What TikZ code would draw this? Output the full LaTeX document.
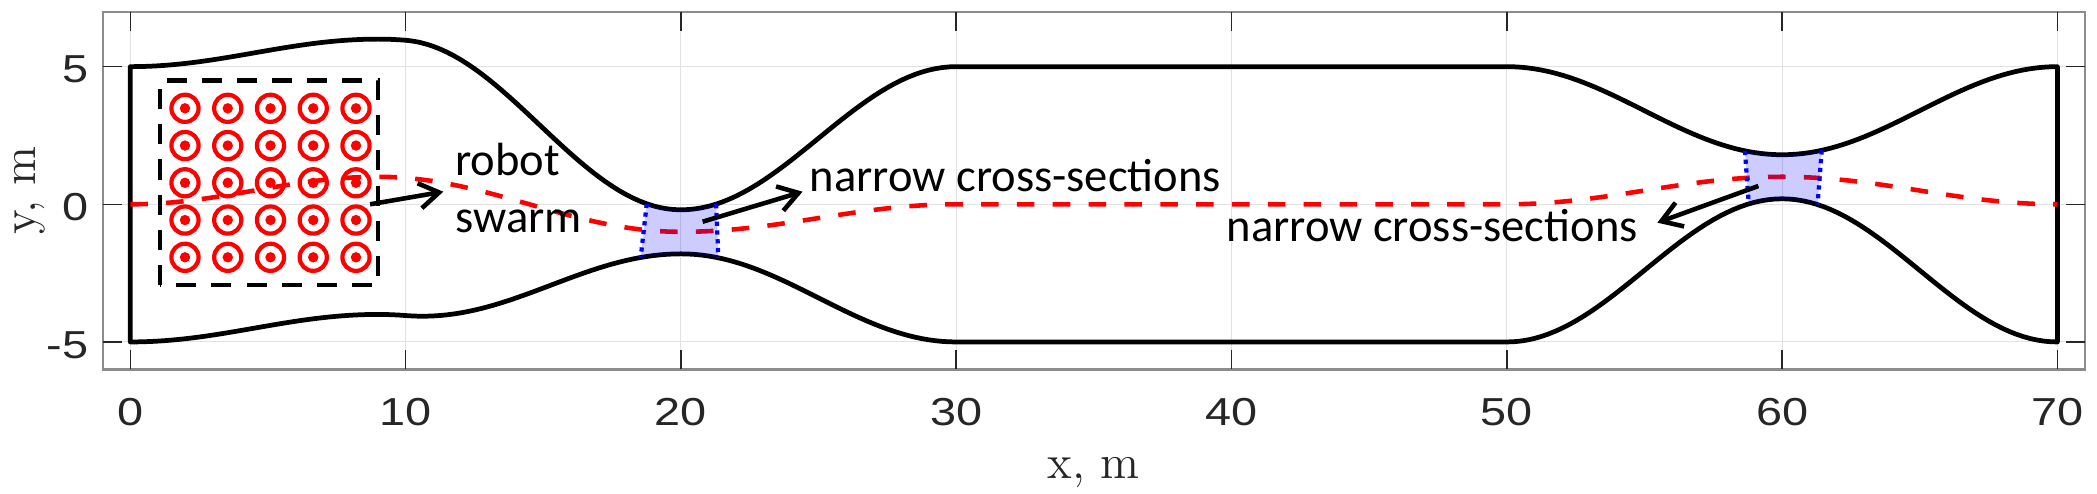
\documentclass[tikz,border=0pt]{standalone}
\usepackage{fontspec}
\newfontfamily\calib{Carlito}
\newfontfamily\arialf{Liberation Sans}
\usetikzlibrary{arrows.meta}
\definecolor{tickgray}{RGB}{38,38,38}
\definecolor{gridgray}{RGB}{225,225,225}
\definecolor{boxgray}{RGB}{140,140,140}
\newcommand\ticklab[1]{\scalebox{1.2}[1]{#1}}
\begin{document}
\begin{tikzpicture}[x=0.2753cm,y=0.2753cm,
  declare function={
    pth(\x) = (\x<9) ? (1-cos(20*\x))/2 : ((\x<20) ? cos(180*(\x-9)/11) : ((\x<30) ? -1+(1-cos(18*(\x-20)))/2 : ((\x<50) ? 0 : ((\x<60) ? (1-cos(18*(\x-50)))/2 : (1+cos(18*(\x-60)))/2))));
    wid(\x) = (\x<10) ? 5 : ((\x<20) ? 5-2.1*(1-cos(18*(\x-10))) : ((\x<30) ? 0.8+2.1*(1-cos(18*(\x-20))) : ((\x<50) ? 5 : ((\x<60) ? 5-2.1*(1-cos(18*(\x-50))) : 0.8+2.1*(1-cos(18*(\x-60)))))));
  },
  gridline/.style={gridgray, line width=0.3pt},
  axisbox/.style={boxgray, line width=0.6pt},
  tickmark/.style={tickgray, line width=0.45pt},
  ticklabel/.style={text=tickgray, font=\arialf\fontsize{11.1pt}{13pt}\selectfont, inner sep=0pt},
  axislabel/.style={text=tickgray, font=\fontsize{13.6pt}{16pt}\selectfont, inner sep=0pt},
  wall/.style={black, line width=1.35pt, line join=round},
  redpath/.style={red, line width=1.3pt, dash pattern=on 5pt off 5.2pt},
  swarmbox/.style={black, line width=1.25pt, dash pattern=on 5.7pt off 4.3pt},
  robotring/.style={red, line width=1.2pt},
  throatfill/.style={fill=blue, fill opacity=0.2},
  dotblue/.style={blue, line width=1.2pt, dash pattern=on 1.2pt off 1.3pt},
  arr/.style={black, line width=1.3pt, -{Straight Barb[length=5.6pt,width=7.2pt]}},
  annot/.style={font=\calib\fontsize{13.24pt}{16.2pt}\selectfont, inner sep=0pt, anchor=base west}
]
\useasboundingbox (-4.733,-10.487) rectangle (71.44,7.421);
% grid
\foreach \v in {0,10,...,70} \draw[gridline] (\v,-6) -- (\v,7);
\foreach \v in {-5,0,5} \draw[gridline] (-1,\v) -- (71,\v);
% walls
\draw[wall] plot[domain=0:70,samples=281,variable=\x] (\x,{pth(\x)+wid(\x)})
  -- plot[domain=70:0,samples=281,variable=\x] (\x,{pth(\x)-wid(\x)}) -- cycle;
% robots
\foreach \i in {0,...,4} \foreach \j in {0,...,4} {
  \draw[robotring] ({1.987+1.553*\i},{3.487-1.353*\j}) circle[radius=0.136cm];
  \fill[red] ({1.987+1.553*\i},{3.487-1.353*\j}) circle[radius=0.052cm];
}
\draw[swarmbox] (1.08,-2.93) rectangle (9.0,4.49);
% path
\draw[redpath] plot[domain=0:70,samples=281,variable=\x] (\x,{pth(\x)});
% throats
\fill[throatfill] plot[domain=18.76:21.28,samples=25,variable=\x] (\x,{pth(\x)+wid(\x)})
  -- plot[domain=21.36:18.54,samples=25,variable=\x] (\x,{pth(\x)-wid(\x)}) -- cycle;
\draw[dotblue] (18.76,{pth(18.76)+wid(18.76)}) -- (18.54,{pth(18.54)-wid(18.54)});
\draw[dotblue] (21.28,{pth(21.28)+wid(21.28)}) -- (21.36,{pth(21.36)-wid(21.36)});
\fill[throatfill] plot[domain=58.65:61.44,samples=25,variable=\x] (\x,{pth(\x)+wid(\x)})
  -- plot[domain=61.29:58.79,samples=25,variable=\x] (\x,{pth(\x)-wid(\x)}) -- cycle;
\draw[dotblue] (58.65,{pth(58.65)+wid(58.65)}) -- (58.79,{pth(58.79)-wid(58.79)});
\draw[dotblue] (61.44,{pth(61.44)+wid(61.44)}) -- (61.29,{pth(61.29)-wid(61.29)});
% annotations
\node[annot] (robot) at (11.78,1.064) {robot};
\node[annot] (swarm) at (11.78,-1.017) {swarm};
\node[annot] (ncsA) at (24.66,0.483) {narrow cross-sections};
\node[annot] (ncsB) at (39.80,-1.359) {narrow cross-sections};
\coordinate (a1s) at (8.71,0.0);
\coordinate (a1e) at (11.37,0.458);
\coordinate (a2s) at (20.79,-0.632);
\coordinate (a2e) at (24.42,0.458);
\coordinate (a3s) at (59.14,0.665);
\coordinate (a3e) at (55.47,-0.668);
\draw[arr] (a1s) -- (a1e);
\draw[arr] (a2s) -- (a2e);
\draw[arr] (a3s) -- (a3e);
% axes
\draw[axisbox] (-1,-6) rectangle (71,7);
\foreach \v in {0,10,...,70} {
  \draw[tickmark] (\v,-6) -- (\v,-5.31);
  \draw[tickmark] (\v,7) -- (\v,6.31);
  \node[ticklabel] (xt\v) at (\v,-7.545) {\ticklab{\v}};
}
\foreach \v/\t in {-5/-5,0/0,5/5} {
  \draw[tickmark] (-1,\v) -- (-0.31,\v);
  \draw[tickmark] (71,\v) -- (70.31,\v);
  \node[ticklabel, anchor=east] (yt\v) at (-1.489,\v-0.11) {\ticklab{\t}};
}
\node[axislabel, anchor=base] (xlab) at (35,-9.953) {x, m};
\node[axislabel, anchor=base, rotate=90] (ylab) at (-3.45,0.5) {y, m};
\end{tikzpicture}
\end{document}
